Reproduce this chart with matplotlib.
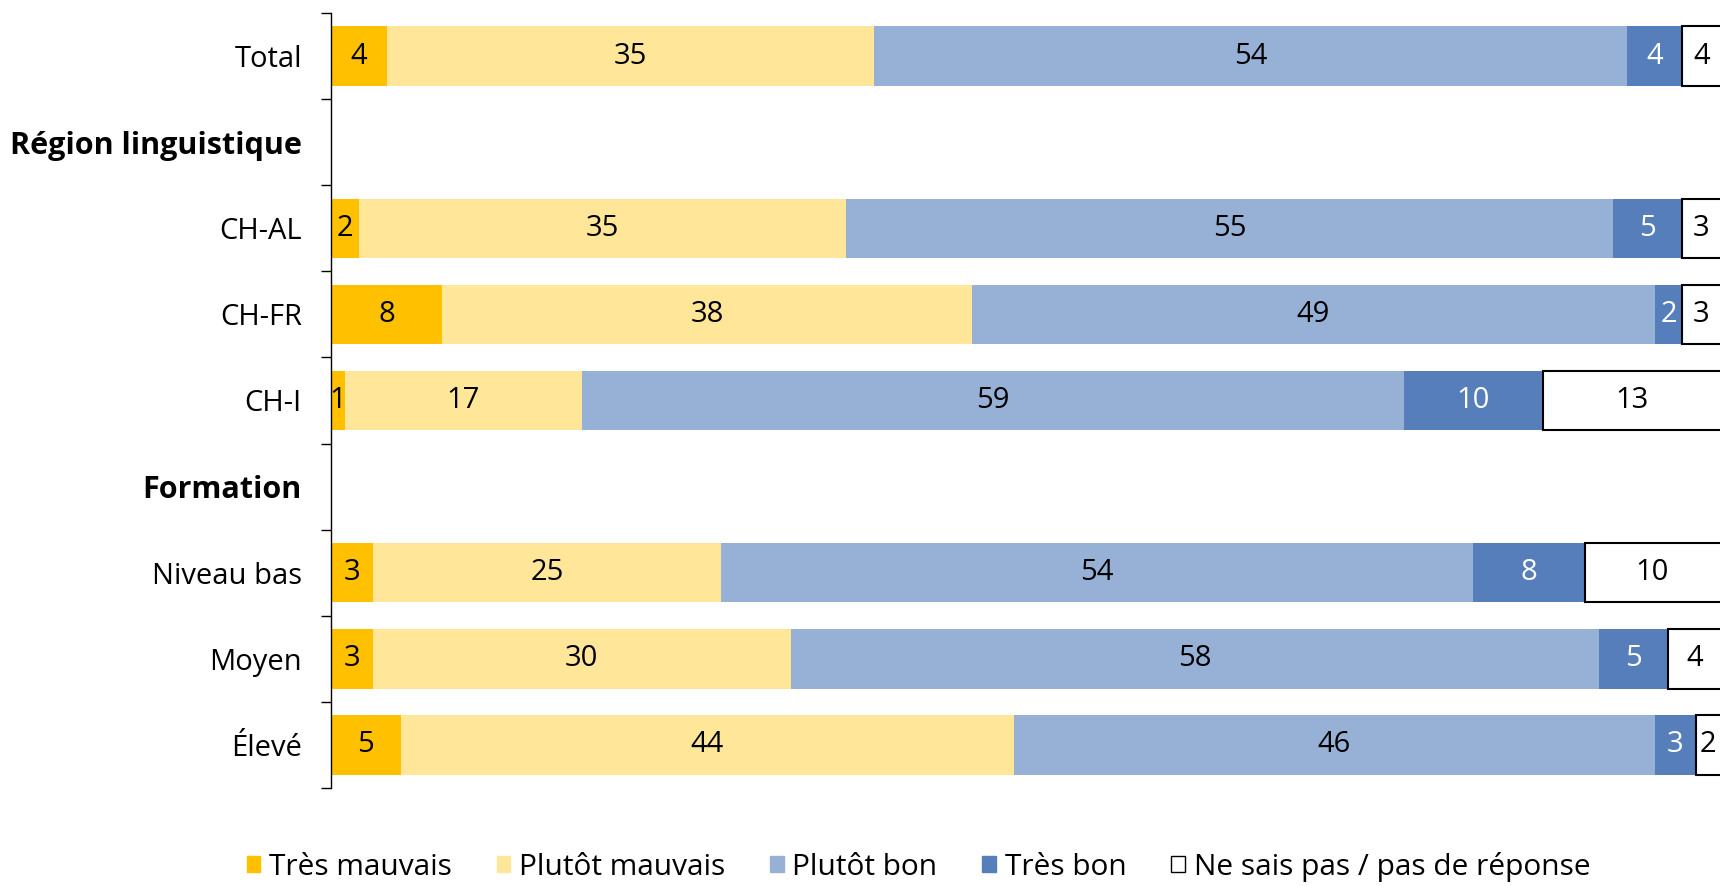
import numpy as np
import matplotlib
matplotlib.use("Agg")
import matplotlib.pyplot as plt
from matplotlib.patches import Patch

plt.rcParams['font.family'] = ['Open Sans', 'DejaVu Sans']

# lignes de l'axe (les titres de groupe n'ont pas de barre)
rows = ['Total', 'Région linguistique', 'CH-AL', 'CH-FR', 'CH-I',
        'Formation', 'Niveau bas', 'Moyen', 'Élevé']
headers = ['Région linguistique', 'Formation']
bar_rows = ['Total', 'CH-AL', 'CH-FR', 'CH-I', 'Niveau bas', 'Moyen', 'Élevé']

series = ['Très mauvais', 'Plutôt mauvais', 'Plutôt bon', 'Très bon',
          'Ne sais pas / pas de réponse']
tres_mauvais = [4, 2, 8, 1, 3, 3, 5]
plutot_mauvais = [35, 35, 38, 17, 25, 30, 44]
plutot_bon = [54, 55, 49, 59, 54, 58, 46]
tres_bon = [4, 5, 2, 10, 8, 5, 3]
ne_sais_pas = [4, 3, 3, 13, 10, 4, 2]

colors = ['#FFC000', '#FFE699', '#97B1D6', '#567EBA', '#FFFFFF']
txt_colors = ['black', 'black', 'black', 'white', 'black']

fig = plt.figure(figsize=(17.2, 8.86), dpi=100)
ax = fig.add_axes([331 / 1720, 1 - 788 / 886, 1 - 331 / 1720, (788 - 13) / 886])

pos = [rows.index(r) for r in bar_rows]
left = np.zeros(len(bar_rows))
for name, vals, c, tc in zip(series, [tres_mauvais, plutot_mauvais, plutot_bon, tres_bon, ne_sais_pas],
                             colors, txt_colors):
    if c == '#FFFFFF':
        bars = ax.barh(pos, vals, left=left, height=0.69, color=c,
                       edgecolor='black', linewidth=1.5)
    else:
        bars = ax.barh(pos, vals, left=left, height=0.69, color=c, linewidth=0)
    ax.bar_label(bars, labels=[str(v) for v in vals], label_type='center',
                 color=tc, fontsize=21)
    left += np.array(vals)

ax.set_xlim(0, 99.7)
ax.set_ylim(len(rows) - 0.5, -0.5)
ax.set_xticks([])
ax.set_yticks(range(len(rows)))
ax.set_yticklabels(rows, fontsize=21)
for lab in ax.get_yticklabels():
    if lab.get_text() in headers:
        lab.set_fontweight('bold')
        lab.set_fontsize(22)
ax.set_yticks(np.arange(-0.5, len(rows), 1), minor=True)
ax.tick_params(axis='y', which='major', length=0, pad=21)
ax.tick_params(axis='y', which='minor', length=7, width=1)
for s in ['top', 'right', 'bottom']:
    ax.spines[s].set_visible(False)
ax.spines['left'].set_linewidth(1)

handles = [Patch(facecolor=c, edgecolor='black' if c == '#FFFFFF' else c, linewidth=1)
           for c in colors]
fig.legend(handles, series, loc='center', bbox_to_anchor=(0.534, 0.022), ncol=5,
           frameon=False, fontsize=21.5, handlelength=0.45, handleheight=0.45,
           handletextpad=0.3, columnspacing=1.5, borderpad=0.1)

fig.savefig('out.png', dpi=100)
